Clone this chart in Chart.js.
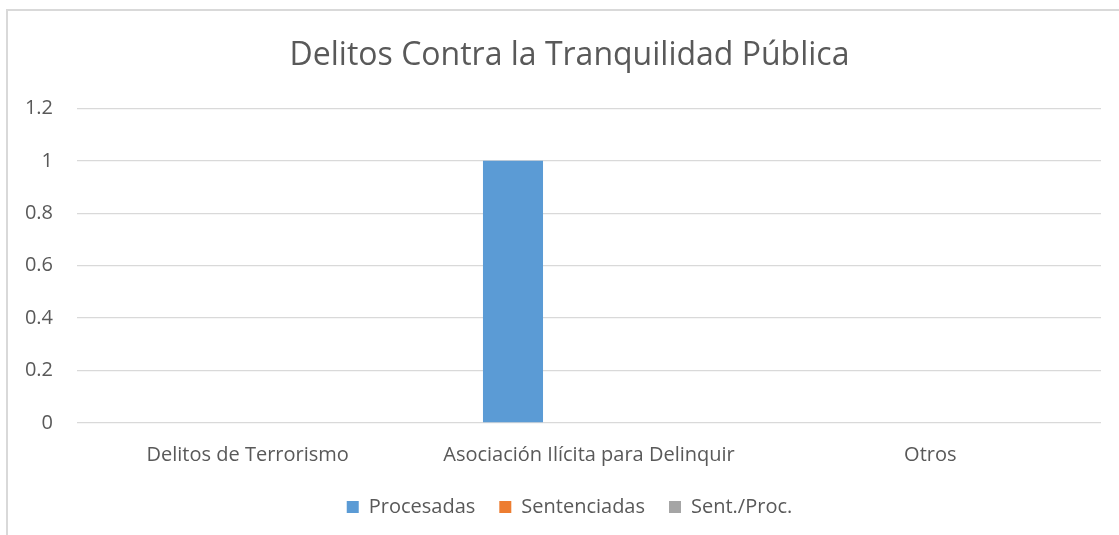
<!DOCTYPE html>
<html>
<head>
<meta charset="utf-8">
<script src="https://cdn.jsdelivr.net/npm/chart.js@4.4.0/dist/chart.umd.min.js"></script>
<style>
html,body{margin:0;padding:0;background:#fff;overflow:hidden;}
#wrap{position:absolute;left:0;top:0;width:1119px;height:535px;}
#frame{position:absolute;left:6px;top:9px;width:1120px;height:560px;border:2px solid #d9d9d9;box-sizing:border-box;pointer-events:none;}
</style>
</head>
<body>
<div id="wrap"><canvas id="c" width="1119" height="535"></canvas></div>
<div id="frame"></div>
<script>
const categories = ["Delitos de Terrorismo", "Asociación Ilícita para Delinquir", "Otros"];
const procesadas = [0, 1, 0];
const sentenciadas = [0, 0, 0];
const sentProc = [0, 0, 0];
const seriesNames = ["Procesadas", "Sentenciadas", "Sent./Proc."];
const yTicks = [0, 0.2, 0.4, 0.6, 0.8, 1, 1.2];
const titleText = "Delitos Contra la Tranquilidad Pública";

const FONT = "Open Sans";
const shiftBlocks = {
  id: 'shiftBlocks',
  afterLayout(chart) {
    const d = 14;
    if (chart.titleBlock) { chart.titleBlock.left += d; chart.titleBlock.right += d; }
    if (chart.legend) { chart.legend.left += d; chart.legend.right += d; }
  }
};
new Chart(document.getElementById('c'), {
  type: 'bar',
  data: {
    labels: categories,
    datasets: [
      {label: seriesNames[0], data: procesadas, backgroundColor: '#5b9bd5'},
      {label: seriesNames[1], data: sentenciadas, backgroundColor: '#ed7d31'},
      {label: seriesNames[2], data: sentProc, backgroundColor: '#a5a5a5'}
    ]
  },
  plugins: [shiftBlocks],
  options: {
    responsive: false,
    animation: false,
    datasets: {bar: {categoryPercentage: 0.668, barPercentage: 0.79}},
    layout: {padding: {left: 10, right: 18, top: 22, bottom: 8}},
    plugins: {
      tooltip: {enabled: false},
      title: {
        display: true, text: titleText, color: '#595959',
        font: {family: FONT, size: 32, weight: 'normal'},
        padding: {top: 15, bottom: 33}
      },
      legend: {
        position: 'bottom',
        labels: {
          color: '#595959', boxWidth: 12, boxHeight: 12, padding: 24,
          font: {family: FONT, size: 20}
        }
      }
    },
    scales: {
      x: {
        afterFit: s => { s.height = 50; },
        grid: {display: false, drawTicks: false},
        border: {display: false},
        ticks: {color: '#595959', font: {family: FONT, size: 20}, padding: 20, maxRotation: 0}
      },
      y: {
        min: 0, max: 1.2,
        afterBuildTicks: s => { s.ticks = yTicks.map(v => ({value: v})); },
        afterFit: s => { s.width = 67; },
        grid: {color: '#d9d9d9', lineWidth: 1.3, drawTicks: false},
        border: {display: false},
        ticks: {color: '#595959', font: {family: FONT, size: 20}, padding: 24,
          callback: v => String(Number(v.toFixed(1)))}
      }
    }
  }
});
</script>
</body>
</html>
